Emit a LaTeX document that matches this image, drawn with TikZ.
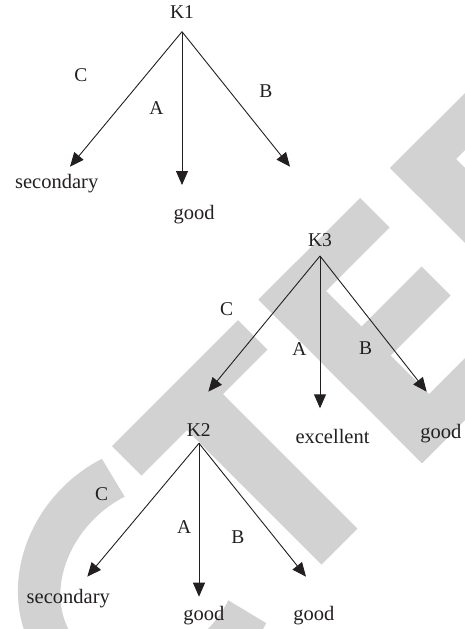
\documentclass[tikz,border=0pt]{standalone}
\usepackage{fontspec}
\setmainfont{Liberation Serif}
\usetikzlibrary{arrows.meta}
\definecolor{wm}{RGB}{210,210,210}
\definecolor{ink}{RGB}{35,31,32}
\begin{document}
\begin{tikzpicture}[x=1pt,y=-1pt,
  lbl/.style={font=\fontsize{19.5}{21}\selectfont, text=ink, inner sep=0pt},
  root/.style={font=\fontsize{19.5}{21}\selectfont, text=ink, inner sep=0pt, anchor=base},
  leaf/.style={font=\fontsize{20.5}{22}\selectfont, text=ink, inner sep=0pt, anchor=base},
  arr/.style={draw=ink, line width=0.9pt, -{Triangle[length=14pt,width=12pt]}}]
\useasboundingbox (0,0) rectangle (465,629);
% watermark
\begin{scope}
  \clip (0,0) rectangle (465,629);
  \begin{scope}[rotate=45, scale=0.70711]
    % C
    \fill[wm] plot[domain=69.9:290.1, samples=90] ({-425+198*cos(\x)},{725+175*sin(\x)})
      -- plot[domain=292.25:67.75, samples=90] ({-425+140*cos(\x)},{725+112*sin(\x)}) -- cycle;
    % T
    \fill[wm] (-334,558) rectangle (-82,617);
    \fill[wm] (-243,616) rectangle (-171,886);
    % E
    \fill[wm] (-41,558) rectangle (35,885);
    \fill[wm] (-41,558) rectangle (162,617);
    \fill[wm] (-41,688) rectangle (155,746);
    \fill[wm] (-41,823) rectangle (220,885);
    % D
    \fill[wm] (222,558) rectangle (297,885);
    \fill[wm] (222,558) rectangle (440,615);
  \end{scope}
\end{scope}
% tree K1
\node[root] (K1) at (182,19) {K1};
\coordinate (k1) at (182,31.7);
\coordinate (k1c) at (70,166.7);
\coordinate (k1a) at (182,185);
\coordinate (k1b) at (290,166.7);
\draw[arr] (k1) -- (k1c);
\draw[arr] (k1) -- (k1a);
\draw[arr] (k1) -- (k1b);
\node[lbl] (c1) at (81,74.7) {C};
\node[lbl] (a1) at (156.5,108.3) {A};
\node[lbl] (b1) at (265.8,91) {B};
\node[leaf] (s1) at (56.7,188.3) {secondary};
\node[leaf] (g1) at (194,219) {good};
% tree K3
\node[root] (K3) at (320,246.7) {K3};
\coordinate (k3) at (320,256);
\coordinate (k3c) at (208.3,391.7);
\coordinate (k3a) at (320,408.3);
\coordinate (k3b) at (426.7,391.7);
\draw[arr] (k3) -- (k3c);
\draw[arr] (k3) -- (k3a);
\draw[arr] (k3) -- (k3b);
\node[lbl] (c3) at (226.7,308.7) {C};
\node[lbl] (a3) at (299.3,349) {A};
\node[lbl] (b3) at (365.7,347.7) {B};
\node[leaf] (e3) at (332.5,443.3) {excellent};
\node[leaf] (g3) at (440.8,438.3) {good};
% tree K2
\node[root] (K2) at (198.7,436.7) {K2};
\coordinate (k2) at (199,443.3);
\coordinate (k2c) at (87.3,576.7);
\coordinate (k2a) at (199,596.7);
\coordinate (k2b) at (306,576.7);
\draw[arr] (k2) -- (k2c);
\draw[arr] (k2) -- (k2a);
\draw[arr] (k2) -- (k2b);
\node[lbl] (c2) at (101.7,493.7) {C};
\node[lbl] (a2) at (184.2,526.7) {A};
\node[lbl] (b2) at (237.8,536.7) {B};
\node[leaf] (s2) at (68.3,603.3) {secondary};
\node[leaf] (g2a) at (203.8,620) {good};
\node[leaf] (g2b) at (313.8,620) {good};
\end{tikzpicture}
\end{document}
